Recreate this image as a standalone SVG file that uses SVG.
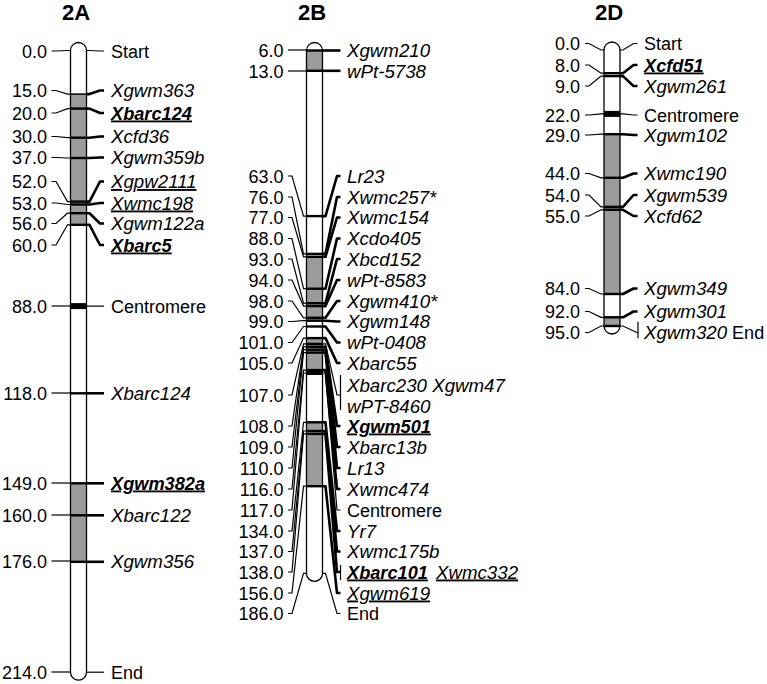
<svg xmlns="http://www.w3.org/2000/svg" width="767" height="684" viewBox="0 0 767 684">
<style>
text{font-family:"Liberation Sans",Arial,Helvetica,sans-serif;font-size:18px;fill:#000}
.ttl{font-size:22px;font-weight:bold;text-anchor:middle}
.n{text-anchor:end}
.i{font-style:italic;font-size:18.7px}
.b{font-weight:bold;font-size:18.2px}
.u{text-decoration:underline}
.thin{fill:none;stroke:#000;stroke-width:1.2}
.thick{fill:none;stroke:#000;stroke-width:2.6;stroke-linejoin:round}
.loc{stroke:#000;stroke-width:2.4}
.body{fill:#fff;stroke:none}
.outline{fill:none;stroke:#000;stroke-width:1.3}
.gray{fill:#9b9b9b}
</style>
<rect width="767" height="684" fill="#fff"/>

<g id="chr2A">
<text class="ttl" x="76" y="20">2A</text>
<path class="body" d="M70.5,50.5 A8,8 0 0 1 86.5,50.5 V672.2 A8,8 0 0 1 70.5,672.2 Z"/>
<rect class="gray" x="70.5" y="94.1" width="16" height="130.7"/>
<rect class="gray" x="70.5" y="483.3" width="16" height="78.5"/>
<line x1="70.5" x2="86.5" y1="94.1" y2="94.1" stroke="#000" stroke-width="1.5"/>
<g class="loc">
<line x1="70.5" x2="86.5" y1="108.6" y2="108.6"/>
<line x1="70.5" x2="86.5" y1="137.7" y2="137.7"/>
<line x1="70.5" x2="86.5" y1="158" y2="158"/>
<line x1="70.5" x2="86.5" y1="201.6" y2="201.6"/>
<line x1="70.5" x2="86.5" y1="204.5" y2="204.5"/>
<line x1="70.5" x2="86.5" y1="213.2" y2="213.2"/>
<line x1="70.5" x2="86.5" y1="224.8" y2="224.8"/>
<line x1="70.5" x2="86.5" y1="393.3" y2="393.3"/>
<line x1="70.5" x2="86.5" y1="483.3" y2="483.3"/>
<line x1="70.5" x2="86.5" y1="515.3" y2="515.3"/>
<line x1="70.5" x2="86.5" y1="561.8" y2="561.8"/>
</g>
<rect x="70.5" y="303.1" width="16" height="6" fill="#000"/>
<path class="outline" d="M70.5,50.5 A8,8 0 0 1 86.5,50.5 V672.2 A8,8 0 0 1 70.5,672.2 Z"/>
<g class="n">
<text x="47" y="57.5">0.0</text>
<text x="47" y="97">15.0</text>
<text x="47" y="119.5">20.0</text>
<text x="47" y="143">30.0</text>
<text x="47" y="164">37.0</text>
<text x="47" y="188">52.0</text>
<text x="47" y="209.5">53.0</text>
<text x="47" y="230">56.0</text>
<text x="47" y="251.5">60.0</text>
<text x="47" y="312.5">88.0</text>
<text x="47" y="399.5">118.0</text>
<text x="47" y="489.5">149.0</text>
<text x="47" y="521.5">160.0</text>
<text x="47" y="567.5">176.0</text>
<text x="47" y="678.5">214.0</text>
</g>
<text x="111" y="57.5">Start</text>
<text class="i" x="111" y="97">Xgwm363</text>
<text class="i b u" x="111" y="119.5">Xbarc124</text>
<text class="i" x="111" y="143">Xcfd36</text>
<text class="i" x="111" y="164">Xgwm359b</text>
<text class="i u" x="111" y="188">Xgpw2111</text>
<text class="i u" x="111" y="209.5">Xwmc198</text>
<text class="i" x="111" y="230">Xgwm122a</text>
<text class="i b u" x="111" y="251.5">Xbarc5</text>
<text x="111" y="312.5">Centromere</text>
<text class="i" x="111" y="399.5">Xbarc124</text>
<text class="i b u" x="111" y="489.5">Xgwm382a</text>
<text class="i" x="111" y="521.5">Xbarc122</text>
<text class="i" x="111" y="567.5">Xgwm356</text>
<text x="111" y="678.5">End</text>
</g>

<g id="chr2B">
<text class="ttl" x="312" y="20">2B</text>
<path class="body" d="M306.5,50.5 A8,8 0 0 1 322.5,50.5 V573.4 A8,8 0 0 1 306.5,573.4 Z"/>
<rect class="gray" x="306.5" y="50.5" width="16" height="20.3"/>
<rect class="gray" x="306.5" y="256.8" width="16" height="63.9"/>
<rect class="gray" x="306.5" y="338.1" width="16" height="32"/>
<rect class="gray" x="306.5" y="422.3" width="16" height="63.9"/>
<g class="loc">
<line x1="306.5" x2="322.5" y1="50.5" y2="50.5"/>
<line x1="306.5" x2="322.5" y1="70.8" y2="70.8"/>
<line x1="306.5" x2="322.5" y1="216.1" y2="216.1"/>
<line x1="306.5" x2="322.5" y1="253.9" y2="253.9"/>
<line x1="306.5" x2="322.5" y1="256.8" y2="256.8"/>
<line x1="306.5" x2="322.5" y1="288.7" y2="288.7"/>
<line x1="306.5" x2="322.5" y1="303.2" y2="303.2"/>
<line x1="306.5" x2="322.5" y1="306.1" y2="306.1"/>
<line x1="306.5" x2="322.5" y1="317.8" y2="317.8"/>
<line x1="306.5" x2="322.5" y1="320.7" y2="320.7"/>
<line x1="306.5" x2="322.5" y1="326.5" y2="326.5"/>
<line x1="306.5" x2="322.5" y1="338.1" y2="338.1"/>
<line x1="306.5" x2="322.5" y1="343.9" y2="343.9"/>
<line x1="306.5" x2="322.5" y1="346.8" y2="346.8"/>
<line x1="306.5" x2="322.5" y1="349.7" y2="349.7"/>
<line x1="306.5" x2="322.5" y1="352.6" y2="352.6"/>
<line x1="306.5" x2="322.5" y1="370.1" y2="370.1"/>
<line x1="306.5" x2="322.5" y1="422.3" y2="422.3"/>
<line x1="306.5" x2="322.5" y1="431" y2="431"/>
<line x1="306.5" x2="322.5" y1="433.9" y2="433.9"/>
<line x1="306.5" x2="322.5" y1="486.2" y2="486.2"/>
</g>
<rect x="306.5" y="369" width="16" height="6" fill="#000"/>
<path class="outline" d="M306.5,50.5 A8,8 0 0 1 322.5,50.5 V573.4 A8,8 0 0 1 306.5,573.4 Z"/>
<g class="n">
<text x="283.5" y="56.5">6.0</text>
<text x="283.5" y="77.5">13.0</text>
<text x="283.5" y="182.5">63.0</text>
<text x="283.5" y="203.5">76.0</text>
<text x="283.5" y="224">77.0</text>
<text x="283.5" y="245">88.0</text>
<text x="283.5" y="265.5">93.0</text>
<text x="283.5" y="286.5">94.0</text>
<text x="283.5" y="307.5">98.0</text>
<text x="283.5" y="328">99.0</text>
<text x="283.5" y="349">101.0</text>
<text x="283.5" y="369.5">105.0</text>
<text x="283.5" y="401.5">107.0</text>
<text x="283.5" y="432.5">108.0</text>
<text x="283.5" y="453.5">109.0</text>
<text x="283.5" y="474.5">110.0</text>
<text x="283.5" y="495.5">116.0</text>
<text x="283.5" y="516.5">117.0</text>
<text x="283.5" y="537.5">134.0</text>
<text x="283.5" y="558">137.0</text>
<text x="283.5" y="578.5">138.0</text>
<text x="283.5" y="599.5">156.0</text>
<text x="283.5" y="620">186.0</text>
</g>
<text class="i" x="347" y="56.5">Xgwm210</text>
<text class="i" x="347" y="77.5">wPt-5738</text>
<text class="i" x="347" y="182.5">Lr23</text>
<text class="i" x="347" y="203.5">Xwmc257*</text>
<text class="i" x="347" y="224">Xwmc154</text>
<text class="i" x="347" y="245">Xcdo405</text>
<text class="i" x="347" y="265.5">Xbcd152</text>
<text class="i" x="347" y="286.5">wPt-8583</text>
<text class="i" x="347" y="307.5">Xgwm410*</text>
<text class="i" x="347" y="328">Xgwm148</text>
<text class="i" x="347" y="349">wPt-0408</text>
<text class="i" x="347" y="369.5">Xbarc55</text>
<text class="i" x="347" y="391.5">Xbarc230 Xgwm47</text>
<text class="i" x="347" y="412.5">wPT-8460</text>
<text class="i b u" x="347" y="432.5">Xgwm501</text>
<text class="i" x="347" y="453.5">Xbarc13b</text>
<text class="i" x="347" y="474.5">Lr13</text>
<text class="i" x="347" y="495.5">Xwmc474</text>
<text x="347" y="516.5">Centromere</text>
<text class="i" x="347" y="537.5">Yr7</text>
<text class="i" x="347" y="558">Xwmc175b</text>
<text class="i b u" x="347" y="578.5">Xbarc101</text>
<text class="i u" x="436" y="578.5">Xwmc332</text>
<text class="i u" x="347" y="599.5">Xgwm619</text>
<text x="347" y="620">End</text>
</g>

<g id="chr2D">
<text class="ttl" x="609" y="20">2D</text>
<path class="body" d="M604,50 A8,8 0 0 1 620,50 V326 A8,8 0 0 1 604,326 Z"/>
<rect class="gray" x="604" y="134.2" width="16" height="159.8"/>
<rect class="gray" x="604" y="317.3" width="16" height="8.7"/>
<g class="loc">
<line x1="604" x2="620" y1="73.2" y2="73.2"/>
<line x1="604" x2="620" y1="76.1" y2="76.1"/>
<line x1="604" x2="620" y1="134.2" y2="134.2"/>
<line x1="604" x2="620" y1="177.8" y2="177.8"/>
<line x1="604" x2="620" y1="206.9" y2="206.9"/>
<line x1="604" x2="620" y1="209.8" y2="209.8"/>
<line x1="604" x2="620" y1="294" y2="294"/>
<line x1="604" x2="620" y1="317.3" y2="317.3"/>
<line x1="604" x2="620" y1="326" y2="326"/>
</g>
<rect x="604" y="110.9" width="16" height="6" fill="#000"/>
<path class="outline" d="M604,50 A8,8 0 0 1 620,50 V326 A8,8 0 0 1 604,326 Z"/>
<g class="n">
<text x="580" y="50">0.0</text>
<text x="580" y="71.5">8.0</text>
<text x="580" y="92.5">9.0</text>
<text x="580" y="121.5">22.0</text>
<text x="580" y="141.5">29.0</text>
<text x="580" y="180">44.0</text>
<text x="580" y="201.5">54.0</text>
<text x="580" y="222.5">55.0</text>
<text x="580" y="295">84.0</text>
<text x="580" y="318">92.0</text>
<text x="580" y="339">95.0</text>
</g>
<text x="644" y="50">Start</text>
<text class="i b u" x="644" y="71.5">Xcfd51</text>
<text class="i" x="644" y="92.5">Xgwm261</text>
<text x="644" y="121.5">Centromere</text>
<text class="i" x="644" y="141.5">Xgwm102</text>
<text class="i" x="644" y="180">Xwmc190</text>
<text class="i" x="644" y="201.5">Xgwm539</text>
<text class="i" x="644" y="222.5">Xcfd62</text>
<text class="i" x="644" y="295">Xgwm349</text>
<text class="i" x="644" y="318">Xgwm301</text>
<text x="644" y="339"><tspan class="i">Xgwm320</tspan> End</text>
</g>

<g id="connectors">
<g class="thin">
<path d="M51.5,51 H56 L67.5,50.5 H70.5"/>
<path d="M51.5,90.5 H56 L67.5,94.1 H70.5"/>
<path d="M51.5,113 H56 L67.5,108.6 H70.5"/>
<path d="M51.5,136.5 H56 L67.5,137.7 H70.5"/>
<path d="M51.5,157.5 H56 L67.5,158 H70.5"/>
<path d="M51.5,181.5 H56 L67.5,201.6 H70.5"/>
<path d="M51.5,203 H56 L67.5,204.5 H70.5"/>
<path d="M51.5,223.5 H56 L67.5,213.2 H70.5"/>
<path d="M51.5,245 H56 L67.5,224.8 H70.5"/>
<path d="M51.5,306 H70.5"/>
<path d="M51.5,393 H70.5"/>
<path d="M51.5,483 H70.5"/>
<path d="M51.5,515 H70.5"/>
<path d="M51.5,561 H70.5"/>
<path d="M51.5,672 H70.5"/>
<path d="M86.5,50.5 H89.5 L100,51 H104"/>
<path d="M86.5,306.1 H104"/>
<path d="M86.5,672.2 H104"/>

<path d="M288,50 H306.5"/>
<path d="M288,71 H306.5"/>
<path d="M288,176 H292 L303.5,216.1 H306.5"/>
<path d="M288,197 H292 L303.5,253.9 H306.5"/>
<path d="M288,217.5 H292 L303.5,256.8 H306.5"/>
<path d="M288,238.5 H292 L303.5,288.7 H306.5"/>
<path d="M288,259 H292 L303.5,303.2 H306.5"/>
<path d="M288,280 H292 L303.5,306.1 H306.5"/>
<path d="M288,301 H292 L303.5,317.8 H306.5"/>
<path d="M288,321.5 H292 L303.5,320.7 H306.5"/>
<path d="M288,342.5 H292 L303.5,326.5 H306.5"/>
<path d="M288,363 H292 L303.5,338.1 H306.5"/>
<path d="M288,395 H292 L303.5,343.9 H306.5"/>
<path d="M288,426 H292 L303.5,346.8 H306.5"/>
<path d="M288,447 H292 L303.5,349.7 H306.5"/>
<path d="M288,468 H292 L303.5,352.6 H306.5"/>
<path d="M288,489 H292 L303.5,370.1 H306.5"/>
<path d="M288,510 H292 L303.5,373 H306.5"/>
<path d="M288,531 H292 L303.5,422.3 H306.5"/>
<path d="M288,551.5 H292 L303.5,431 H306.5"/>
<path d="M288,572 H292 L303.5,433.9 H306.5"/>
<path d="M288,593 H292 L303.5,486.2 H306.5"/>
<path d="M288,613.5 H292 L303.5,573.4 H306.5"/>
<path d="M322.5,343.9 H325.5 L337,395 H340.5"/>
<path d="M340.5,375 V410"/>
<path d="M322.5,373 H325.5 L337,510 H340.5"/>
<path d="M322.5,573.4 H325.5 L337,613.5 H340.5"/>
<path d="M340.5,565 V580"/>

<path d="M585,43.5 H589 L601,50 H604"/>
<path d="M585,65 H589 L601,73.2 H604"/>
<path d="M585,86 H589 L601,76.1 H604"/>
<path d="M585,115 H589 L601,113.9 H604"/>
<path d="M585,135 H589 L601,134.2 H604"/>
<path d="M585,173.5 H589 L601,177.8 H604"/>
<path d="M585,195 H589 L601,206.9 H604"/>
<path d="M585,216 H589 L601,209.8 H604"/>
<path d="M585,288.5 H589 L601,294 H604"/>
<path d="M585,311.5 H589 L601,317.3 H604"/>
<path d="M585,332.5 H589 L601,326 H604"/>
<path d="M620,50 H623 L633.5,43.5 H637.5"/>
<path d="M620,113.9 H623 L633.5,115 H637.5"/>
<path d="M620,326 H623 L638,333"/>
<path d="M638,321.7 V338.3"/>
</g>
<g class="thick">
<path d="M86.5,94.1 H89.5 L100,90.5 H104"/>
<path d="M86.5,108.6 H89.5 L100,113 H104"/>
<path d="M86.5,137.7 H89.5 L100,136.5 H104"/>
<path d="M86.5,158 H89.5 L100,157.5 H104"/>
<path d="M86.5,201.6 H89.5 L100,181.5 H104"/>
<path d="M86.5,204.5 H89.5 L100,203 H104"/>
<path d="M86.5,213.2 H89.5 L100,223.5 H104"/>
<path d="M86.5,224.8 H89.5 L100,245 H104"/>
<path d="M86.5,393.3 H104"/>
<path d="M86.5,483.3 H104"/>
<path d="M86.5,515.3 H104"/>
<path d="M86.5,561.8 H104"/>

<path d="M322.5,50.5 H340.5"/>
<path d="M322.5,70.8 H340.5"/>
<path d="M322.5,216.1 H325.5 L337,176 H340.5"/>
<path d="M322.5,253.9 H325.5 L337,197 H340.5"/>
<path d="M322.5,256.8 H325.5 L337,217.5 H340.5"/>
<path d="M322.5,288.7 H325.5 L337,238.5 H340.5"/>
<path d="M322.5,303.2 H325.5 L337,259 H340.5"/>
<path d="M322.5,306.1 H325.5 L337,280 H340.5"/>
<path d="M322.5,317.8 H325.5 L337,301 H340.5"/>
<path d="M322.5,320.7 H325.5 L337,321.5 H340.5"/>
<path d="M322.5,326.5 H325.5 L337,342.5 H340.5"/>
<path d="M322.5,338.1 H325.5 L337,363 H340.5"/>
<path d="M322.5,346.8 H325.5 L337,426 H340.5"/>
<path d="M322.5,349.7 H325.5 L337,447 H340.5"/>
<path d="M322.5,352.6 H325.5 L337,468 H340.5"/>
<path d="M322.5,370.1 H325.5 L337,489 H340.5"/>
<path d="M322.5,422.3 H325.5 L337,531 H340.5"/>
<path d="M322.5,431 H325.5 L337,551.5 H340.5"/>
<path d="M322.5,433.9 H325.5 L337,572 H340.5"/>
<path d="M322.5,486.2 H325.5 L337,593 H340.5"/>

<path d="M620,73.2 H623 L633.5,65 H637.5"/>
<path d="M620,76.1 H623 L633.5,86 H637.5"/>
<path d="M620,134.2 H623 L633.5,135 H637.5"/>
<path d="M620,177.8 H623 L633.5,173.5 H637.5"/>
<path d="M620,206.9 H623 L633.5,195 H637.5"/>
<path d="M620,209.8 H623 L633.5,216 H637.5"/>
<path d="M620,294 H623 L633.5,288.5 H637.5"/>
<path d="M620,317.3 H623 L633.5,311.5 H637.5"/>
</g>
</g>
</svg>
